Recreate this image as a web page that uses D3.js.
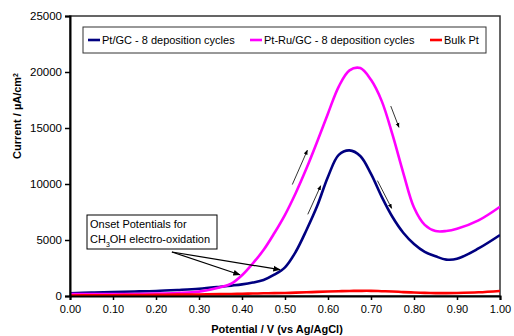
<!DOCTYPE html>
<html>
<head>
<meta charset="utf-8">
<script src="https://cdn.jsdelivr.net/npm/d3@7"></script>
<style>
  body { margin: 0; background: #fff; }
  svg text { font-family: "Liberation Sans", Arial, sans-serif; fill: #000; }
</style>
</head>
<body>
<div id="chart"></div>
<script>
// potential grid (V vs Ag/AgCl), shared by all three scans
var potential = [0, 0.05, 0.10, 0.15, 0.20, 0.25, 0.30, 0.35, 0.375, 0.40, 0.425, 0.45, 0.475, 0.50,
    0.525, 0.55, 0.575, 0.60, 0.625, 0.65, 0.675, 0.70, 0.725, 0.75, 0.775, 0.80, 0.825, 0.85, 0.875,
    0.90, 0.95, 1.00];
var ptGC = [240, 300, 360, 400, 450, 540, 650, 830, 930, 1040, 1200, 1430, 1900, 2560,
    3950, 5890, 8050, 10650, 12600, 13000, 12500, 10900, 8850, 7050, 5650, 4650, 3950, 3550, 3250,
    3320, 4250, 5450];
var ptRuGC = [180, 170, 170, 180, 210, 270, 390, 775, 1100, 1850, 2900, 4100, 5600, 7250,
    9200, 11400, 13800, 16300, 18700, 20150, 20350, 19300, 17400, 14400, 11000, 7900, 6350, 5800, 5800,
    6000, 6750, 7970];
var bulkPt = [50, 60, 70, 85, 100, 120, 140, 170, 185, 200, 220, 240, 255, 270,
    300, 330, 370, 400, 430, 450, 460, 460, 430, 400, 350, 310, 280, 260, 255,
    270, 330, 450];

var seriesNames = ["Pt/GC - 8 deposition cycles", "Pt-Ru/GC - 8 deposition cycles", "Bulk Pt"];
var seriesColors = ["#000080", "#ff00ff", "#ff0000"];
var xTicks = [0, 0.1, 0.2, 0.3, 0.4, 0.5, 0.6, 0.7, 0.8, 0.9, 1.0];
var yTicks = [0, 5000, 10000, 15000, 20000, 25000];

// scan direction arrows [x1, y1, x2, y2] in data units
var scanArrows = [
    [0.517, 9950, 0.552, 13010],
    [0.746, 16960, 0.765, 15060],
    [0.553, 7290, 0.583, 9840],
    [0.715, 10300, 0.748, 7830]
];
// onset arrows: from the text box to each curve
var onsetFrom = [0.237, 3930];
var onsetTo = [[0.395, 1900], [0.488, 2350]];

var margin = { top: 16, right: 14, bottom: 40, left: 70 },
    width = 514 - margin.left - margin.right,
    height = 336 - margin.top - margin.bottom;

var svg = d3.select("#chart")
    .append("svg")
    .attr("width", 514)
    .attr("height", 336)
    .append("g")
    .attr("transform", "translate(" + margin.left + "," + margin.top + ")");

var defs = svg.append("defs");
defs.append("marker")
    .attr("id", "head")
    .attr("viewBox", "0 0 10 10")
    .attr("refX", 9).attr("refY", 5)
    .attr("markerWidth", 6).attr("markerHeight", 6)
    .attr("orient", "auto")
    .append("path").attr("d", "M0,1 L10,5 L0,9 z").attr("fill", "#000");
defs.append("clipPath").attr("id", "clip")
    .append("rect").attr("width", width).attr("height", height);

var x = d3.scaleLinear().domain([0, 1]).range([0, width]);
var y = d3.scaleLinear().domain([0, 25000]).range([height, 0]);

// frame (top and right)
svg.append("rect")
    .attr("width", width).attr("height", height)
    .attr("fill", "none").attr("stroke", "#333").attr("stroke-width", 1.5);

// curves
var line = d3.line()
    .x(function (d) { return x(d[0]); })
    .y(function (d) { return y(d[1]); })
    .curve(d3.curveCatmullRom.alpha(0.5));

[ptGC, ptRuGC, bulkPt].forEach(function (vals, i) {
    svg.append("path")
        .datum(potential.map(function (p, j) { return [p, vals[j]]; }))
        .attr("clip-path", "url(#clip)")
        .attr("fill", "none")
        .attr("stroke", seriesColors[i])
        .attr("stroke-width", 2.6)
        .attr("d", line);
});

// axes
var xAxis = svg.append("g")
    .attr("transform", "translate(0," + height + ")")
    .call(d3.axisBottom(x).tickValues(xTicks).tickSize(4).tickPadding(5).tickFormat(d3.format(".2f")));
var yAxis = svg.append("g")
    .call(d3.axisLeft(y).tickValues(yTicks).tickSize(5).tickPadding(3).tickFormat(d3.format("d")));
[xAxis, yAxis].forEach(function (a) {
    a.select(".domain").attr("stroke", "#000").attr("stroke-width", 2);
    a.selectAll(".tick line").attr("stroke", "#000").attr("stroke-width", 1.5);
    a.selectAll(".tick text").attr("font-size", "11px").attr("fill", "#111")
        .style("font-family", "'Liberation Sans', Arial, sans-serif");
});
yAxis.selectAll(".tick text").attr("font-size", "11.5px");

// axis titles
svg.append("text")
    .attr("x", 207).attr("y", 317)
    .attr("text-anchor", "middle")
    .attr("font-size", "11px").attr("font-weight", "bold")
    .text("Potential / V (vs Ag/AgCl)");

var yTitle = svg.append("text")
    .attr("transform", "translate(-49," + 100 + ") rotate(-90)")
    .attr("text-anchor", "middle")
    .attr("font-size", "11px").attr("font-weight", "bold");
yTitle.append("tspan").text("Current / µA/cm");
yTitle.append("tspan").attr("baseline-shift", "super").attr("font-size", "7px").text("2");

// scan direction arrows
scanArrows.forEach(function (a) {
    svg.append("line")
        .attr("x1", x(a[0])).attr("y1", y(a[1]))
        .attr("x2", x(a[2])).attr("y2", y(a[3]))
        .attr("stroke", "#000").attr("stroke-width", 0.8)
        .attr("marker-end", "url(#head)");
});

// onset annotation
onsetTo.forEach(function (t) {
    svg.append("line")
        .attr("x1", x(onsetFrom[0])).attr("y1", y(onsetFrom[1]))
        .attr("x2", x(t[0])).attr("y2", y(t[1]))
        .attr("stroke", "#000").attr("stroke-width", 1.2)
        .attr("marker-end", "url(#head)");
});

var note = svg.append("g").attr("transform", "translate(17,199)");
note.append("rect")
    .attr("width", 130).attr("height", 34)
    .attr("fill", "#fff").attr("stroke", "#000").attr("stroke-width", 1);
note.append("text").attr("x", 3).attr("y", 13).attr("font-size", "11px").text("Onset Potentials for");
var line2 = note.append("text").attr("x", 3).attr("y", 28).attr("font-size", "11px");
line2.append("tspan").text("CH");
line2.append("tspan").attr("baseline-shift", "sub").attr("font-size", "7px").text("3");
line2.append("tspan").text("OH electro-oxidation");

// legend
var legend = svg.append("g").attr("transform", "translate(13,11)");
legend.append("rect")
    .attr("width", 403).attr("height", 26)
    .attr("fill", "#fff").attr("stroke", "#333").attr("stroke-width", 1);
var legendX = [5, 167, 347];
seriesNames.forEach(function (name, i) {
    var g = legend.append("g").attr("transform", "translate(" + legendX[i] + ",13)");
    g.append("line").attr("x1", 0).attr("x2", 12)
        .attr("stroke", seriesColors[i]).attr("stroke-width", 2.6);
    g.append("text").attr("x", 14).attr("y", 4).attr("font-size", "11px").text(name);
});
</script>
</body>
</html>
